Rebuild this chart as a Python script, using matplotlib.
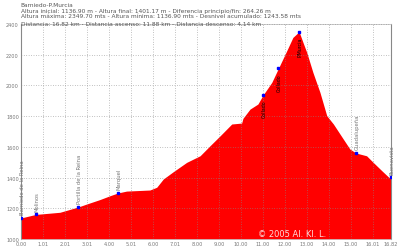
import matplotlib
matplotlib.use("Agg")
import matplotlib.pyplot as plt

# ---- data ----
dist_km = [0.00, 0.67, 1.77, 2.59, 2.99, 3.59, 4.05, 4.41, 4.80, 5.86, 6.17, 6.47,
           6.92, 7.53, 8.14, 8.59, 9.05, 9.58, 10.03, 10.09, 10.41, 10.77, 11.01,
           11.40, 11.70, 12.08, 12.36, 12.64, 12.82, 12.99, 13.27, 13.59, 13.90,
           14.20, 14.65, 14.95, 15.23, 15.71, 16.01, 16.40, 16.77, 16.82]
elev_m = [1137, 1160, 1174, 1208, 1228, 1257, 1282, 1300, 1312, 1319, 1337, 1391,
          1438, 1499, 1542, 1607, 1672, 1749, 1755, 1786, 1846, 1879, 1939,
          2020, 2111, 2226, 2313, 2350, 2280, 2215, 2085, 1955, 1803,
          1749, 1651, 1586, 1560, 1542, 1499, 1445, 1395, 1401]

way_km = [0.00, 0.67, 2.59, 4.41, 15.23, 16.82]
way_m = [1137, 1160, 1208, 1300, 1560, 1401]
way_names = ["Barniedo de la Reina", "Molinos", "Portilla de la Reina", "Marquel",
             "Guadalupeña", "Buenavista"]
peak_km = [11.01, 11.70, 12.64]
peak_m = [1939, 2111, 2350]
peak_names = ["Collado", "Collado", "P.Murcia"]

xtick_pos = [0, 1, 2, 3, 4, 5, 6, 7, 8, 9, 10, 11, 12, 13, 14, 15, 16, 16.82]
xtick_lab = ["0.00", "1.01", "2.01", "3.01", "4.00", "5.01", "6.00", "7.01", "8.00",
             "9.00", "10.00", "11.00", "12.00", "13.00", "14.00", "15.00", "16.01", "16.82"]
ytick_pos = [1000, 1200, 1400, 1600, 1800, 2000, 2200, 2400]

header = ["Barniedo-P.Murcia",
          "Altura inicial: 1136.90 m - Altura final: 1401.17 m - Diferencia principio/fin: 264.26 m",
          "Altura máxima: 2349.70 mts - Altura mínima: 1136.90 mts - Desnivel acumulado: 1243.58 mts",
          "Distancia: 16.82 km - Distancia ascenso: 11.88 km - Distancia descenso: 4.14 km"]

fig = plt.figure(figsize=(4.0, 2.53), dpi=100)
ax = fig.add_axes([0.0525, 0.0514, 0.925, 0.8496])
ax.fill_between(dist_km, elev_m, 1000, color="#ff0000", lw=0, zorder=1)
ax.set_xlim(0, 16.82)
ax.set_ylim(1000, 2400)
ax.set_xticks(xtick_pos)
ax.set_xticklabels(xtick_lab)
ax.set_yticks(ytick_pos)
ax.tick_params(labelsize=3.6, colors="#777777", length=0, pad=1.5)
ax.grid(True, color="#888888", linestyle=(0, (1, 2.5)), linewidth=0.5, zorder=2)
ax.set_axisbelow(False)
for s in ["left", "right"]:
    ax.spines[s].set_color("#888888")
    ax.spines[s].set_linewidth(0.8)
for s in ["top", "bottom"]:
    ax.spines[s].set_color("#bbbbbb")
    ax.spines[s].set_linewidth(0.5)

ax.plot(way_km, way_m, ls="none", marker="s", ms=1.6, color="#0000ff", zorder=4)
ax.plot(peak_km, peak_m, ls="none", marker="s", ms=1.6, color="#0000ff", zorder=4)
for x, y, n in zip(way_km, way_m, way_names):
    ax.text(x + 0.05, y + 25, n, rotation=90, fontsize=3.8, color="#777777",
            ha="center", va="bottom", zorder=5)
for x, y, n in zip(peak_km, peak_m, peak_names):
    ax.text(x + 0.05, y - 30, n, rotation=90, fontsize=3.4, color="#000000",
            ha="center", va="top", zorder=5)

ax.text(0.64, 0.005, "© 2005 Al. Kl. L.", transform=ax.transAxes, fontsize=6,
        color="white", alpha=0.85, ha="left", va="bottom", zorder=6)

ys = [0.977, 0.955, 0.933, 0.904]
for t, yy in zip(header, ys):
    fig.text(0.052, yy, t, fontsize=4.2, color="#555555", ha="left", va="center")

fig.savefig("out.png", dpi=100)
